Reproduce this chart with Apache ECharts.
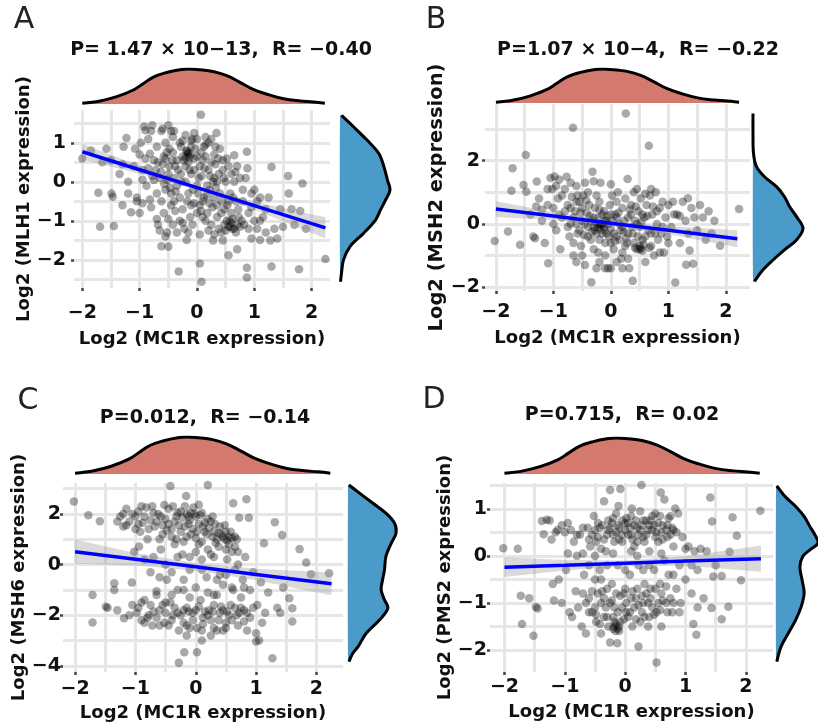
<!DOCTYPE html>
<html><head><meta charset="utf-8">
<script src="https://cdn.jsdelivr.net/npm/echarts@6/dist/echarts.min.js"></script>
<style>html,body{margin:0;padding:0;background:#fff}#c{width:818px;height:726px}</style>
</head><body><div id="c"></div>
<script>
// ---------- DATA ----------
const xAxisName = 'Log2 (MC1R expression)';
const xTickVals = [-2, -1, 0, 1, 2];
const xGridVals = [-2, -1.5, -1, -0.5, 0, 0.5, 1, 1.5, 2];

// shared marginal density of MC1R (relative height)
const mc1rDensX = [-2.0, -1.69, -1.4, -1.11, -0.94, -0.76, -0.53, -0.3, -0.15, 0.05, 0.28, 0.52, 0.75, 0.98, 1.22, 1.51, 1.8, 2.03, 2.23];
const mc1rDensY = [0.02, 0.087, 0.21, 0.4, 0.58, 0.77, 0.9, 0.98, 1.0, 0.98, 0.93, 0.81, 0.62, 0.42, 0.28, 0.15, 0.087, 0.058, 0.02];

// Panel A: MLH1
const mlh1Points = [[-2.0,0.6],[-1.85,0.8],[-1.72,-0.28],[-1.69,-1.15],[-1.58,0.85],[-1.49,-0.3],[-1.47,-0.38],[-1.45,-1.13],[-1.35,0.2],[-1.28,0.9],[-1.23,1.12],[-1.2,0.0],[-1.15,-0.78],[-1.08,0.85],[-1.05,-0.4],[-1.05,-0.5],[-1.0,-0.8],[-0.98,1.0],[-0.95,0.05],[-0.92,1.42],[-0.9,1.32],[-0.85,1.1],[-0.82,0.72],[-0.8,-0.65],[-0.78,1.45],[-0.75,0.55],[-0.72,0.3],[-0.7,-0.3],[-0.68,-1.1],[-0.65,-1.25],[-0.62,1.3],[-0.62,-1.65],[-0.6,1.36],[-0.58,0.65],[-0.55,-0.2],[-0.52,0.05],[-0.5,-1.66],[-0.5,-0.95],[-0.48,0.4],[-0.45,1.3],[-0.42,1.15],[-0.42,0.75],[-0.4,-0.5],[-0.38,-0.75],[-0.35,0.55],[-0.32,-2.3],[-0.3,1.0],[-0.3,-1.0],[-0.28,0.2],[-0.25,0.65],[-0.22,-1.2],[-0.2,1.2],[-0.18,-1.49],[-0.18,0.8],[-0.15,0.75],[-0.15,0.5],[-0.12,0.7],[-0.1,-0.6],[-0.1,0.2],[-0.08,1.1],[-0.05,-0.55],[-0.05,0.6],[0.0,1.1],[0.02,-0.3],[0.05,-2.09],[0.05,0.4],[0.07,1.72],[0.08,-2.56],[0.1,-0.9],[0.12,0.9],[0.15,-1.0],[0.18,-0.1],[0.2,0.3],[0.22,-0.55],[0.25,0.5],[0.28,-1.5],[0.3,0.1],[0.32,0.9],[0.34,1.25],[0.35,-0.6],[0.38,-1.2],[0.4,0.85],[0.42,-0.8],[0.45,0.3],[0.48,-1.1],[0.5,-1.25],[0.52,0.6],[0.55,-1.88],[0.55,-0.5],[0.58,-1.15],[0.6,0.2],[0.62,-0.95],[0.65,0.68],[0.68,-1.3],[0.7,-1.73],[0.72,-0.7],[0.75,0.1],[0.78,-1.0],[0.8,-0.5],[0.82,-1.1],[0.87,0.77],[0.87,-2.2],[0.87,-2.45],[0.88,0.35],[0.9,-0.8],[0.95,-0.3],[1.0,-1.0],[1.05,-0.5],[1.1,-1.49],[1.15,-0.9],[1.2,-0.7],[1.28,-1.5],[1.3,0.38],[1.3,-2.17],[1.35,-1.2],[1.4,-1.45],[1.45,-0.7],[1.5,-1.15],[1.59,0.15],[1.6,-0.3],[1.65,-0.7],[1.7,-1.1],[1.78,-2.24],[1.8,-0.75],[1.84,-0.04],[1.9,-1.2],[2.24,-1.98],
[-0.6,0.45],[-0.55,0.6],[-0.5,0.2],[-0.45,-0.3],[-0.4,0.1],[-0.38,0.4],[-0.35,-0.1],[-0.3,-0.4],[-0.28,0.9],[-0.25,-0.7],[-0.2,0.0],[-0.2,0.4],[-0.15,-0.3],[-0.12,-0.9],[-0.1,0.9],[-0.08,-1.1],[-0.05,0.3],[0.0,-0.1],[0.0,0.65],[0.05,-0.6],[0.08,0.15],[0.1,0.55],[0.12,-0.4],[0.15,0.65],[0.18,-0.8],[0.2,1.0],[0.22,-0.2],[0.25,-1.1],[0.28,0.0],[0.3,-0.4],[0.32,0.45],[0.35,-0.9],[0.38,0.2],[0.4,-0.3],[0.42,-1.3],[0.45,0.55],[0.48,-0.7],[0.5,0.0],[0.52,-1.0],[0.55,0.4],[0.58,-0.3],[0.6,-0.8],[0.62,-1.2],[0.65,0.0],[0.68,-0.5],[0.7,0.4],[-0.7,0.9],[-0.65,0.1],[-0.62,-0.5],[-0.58,-0.8],[-0.55,1.0],[-0.52,-1.3],[-0.48,0.85],[-0.45,-0.6],[-0.42,-1.1],[-0.9,0.6],[-0.88,-0.1],[-0.85,0.35],[-0.82,-0.45],[-0.78,0.15],[-1.1,0.4],[-1.3,0.45],[-1.5,0.55],[-1.65,0.5],[0.15,0.95],[-0.05,1.25],[0.08,0.75],[0.3,0.7],[-0.25,1.05],[0.9,-1.2],[1.0,-0.2],[0.95,-0.65],[0.75,-1.15],[1.1,-1.0],[1.25,-0.4],[0.85,0.1],[-0.95,-0.55],[-0.35,-1.3],[-0.15,-1.3],[0.05,-1.35],[0.2,-1.25],[-0.7,-0.95],
[-0.75,0.05],[-0.68,0.5],[-0.63,0.25],[-0.57,-0.05],[-0.53,0.75],[-0.47,-0.15],[-0.43,0.55],[-0.37,-0.25],[-0.33,0.3],[-0.27,0.0],[-0.23,0.55],[-0.17,-0.5],[-0.13,0.3],[-0.07,-0.2],[-0.03,0.85],[0.03,0.1],[0.07,-0.75],[0.13,0.35],[0.17,-0.35],[0.23,0.15],[0.27,-0.65],[0.33,-0.15],[0.37,0.6],[0.43,-0.5],[0.47,0.1],[0.53,-0.6],[0.57,-1.0],[0.63,-0.4],[0.67,0.25],[0.73,-0.9],[-0.18,0.78],[-0.16,0.72],[-0.13,0.62],[-0.2,0.62],[0.6,-1.05],[0.55,-1.15],[0.65,-1.2],[0.7,-1.1],[-0.8,1.3],[-0.5,1.45],[-0.4,1.3],[-0.1,1.05],[0.15,1.15],[0.25,1.1],[-1.2,-0.3],[-1.3,-0.6],[-0.95,0.3],[-1.0,0.7],[1.2,-1.3],[1.05,-1.2],[0.95,-1.45],[0.45,-1.5],[0.3,-1.35],[-0.55,-1.4],[-0.25,-1.05],[0.0,-0.8],[0.1,-0.5],[0.35,0.0],[0.8,-0.2],[1.1,-0.4]];
const mlh1DensY = [1.70, 1.41, 1.07, 0.72, 0.38, 0.04, -0.21, -0.47, -0.72, -0.98, -1.32, -1.66, -2.0, -2.34, -2.56];
const mlh1DensD = [0.03, 0.27, 0.54, 0.78, 0.88, 0.95, 1.0, 0.91, 0.81, 0.71, 0.47, 0.2, 0.07, 0.03, 0.01];
const mlh1FitX = [-2.0, -1.0, 0.0, 1.0, 2.24];
const mlh1FitY = [0.77, 0.31, -0.15, -0.61, -1.18];
const mlh1CiLo = [0.57, 0.21, -0.2, -0.71, -1.45];
const mlh1CiHi = [0.97, 0.41, -0.1, -0.51, -0.91];
const mlh1YTicks = [-2, -1, 0, 1];
const mlh1YGrid = [-2.5, -2, -1.5, -1, -0.5, 0, 0.5, 1, 1.5];

// Panel B: MSH2
const msh2Points = [[-2.02,-0.54],[-1.79,-0.24],[-1.73,1.05],[-1.71,1.76],[-1.58,-0.66],[-1.52,1.23],[-1.48,2.18],[-1.47,1.02],[-1.4,0.3],[-1.35,-0.4],[-1.32,-0.45],[-1.29,1.34],[-1.25,0.8],[-1.2,0.1],[-1.15,-0.6],[-1.09,-1.24],[-1.05,1.45],[-1.02,1.1],[-1.0,0.5],[-0.98,1.5],[-0.95,-0.2],[-0.92,0.8],[-0.9,1.4],[-0.88,-0.8],[-0.85,0.2],[-0.8,1.1],[-0.77,1.49],[-0.75,0.6],[-0.72,-0.4],[-0.7,0.0],[-0.68,0.85],[-0.66,3.04],[-0.65,-1.0],[-0.62,0.4],[-0.6,1.2],[-0.58,-0.3],[-0.55,0.7],[-0.52,-0.7],[-0.5,0.1],[-0.48,0.9],[-0.45,-1.3],[-0.42,0.35],[-0.4,-0.1],[-0.38,0.6],[-0.35,-0.5],[-0.34,-1.84],[-0.32,1.65],[-0.3,0.2],[-0.28,-0.2],[-0.25,0.9],[-0.22,-0.9],[-0.2,0.0],[-0.18,1.3],[-0.15,-0.3],[-0.12,0.4],[-0.1,-0.6],[-0.08,0.1],[-0.05,-1.4],[-0.02,0.6],[0.0,-0.15],[0.02,0.9],[0.05,-0.8],[0.08,0.3],[0.1,-0.4],[0.12,1.0],[0.15,0.0],[0.18,-1.1],[0.2,0.5],[0.22,-0.25],[0.25,0.8],[0.26,3.49],[0.28,-0.6],[0.29,1.42],[0.3,0.2],[0.32,-1.4],[0.35,0.6],[0.38,-1.8],[0.38,-0.3],[0.4,1.0],[0.42,0.1],[0.45,-0.8],[0.48,0.4],[0.5,-0.1],[0.52,0.8],[0.55,-0.5],[0.58,0.2],[0.6,-1.2],[0.62,0.6],[0.65,-0.2],[0.66,2.47],[0.68,0.9],[0.7,-0.7],[0.72,0.3],[0.75,-1.0],[0.78,1.0],[0.8,0.0],[0.82,-0.5],[0.85,0.5],[0.88,-0.3],[0.9,0.7],[0.92,-0.9],[0.95,0.2],[0.98,-0.4],[1.0,0.6],[1.05,-0.1],[1.08,0.7],[1.12,-1.85],[1.15,0.3],[1.2,-0.6],[1.25,0.7],[1.3,0.1],[1.31,-1.29],[1.34,0.81],[1.37,-0.84],[1.4,0.5],[1.43,-1.26],[1.5,-0.2],[1.55,0.6],[1.6,0.2],[1.65,-0.5],[1.7,0.4],[1.75,-0.3],[1.8,0.1],[1.9,-0.69],[2.23,0.47],
[-0.6,0.0],[-0.55,-0.2],[-0.5,0.5],[-0.45,0.0],[-0.4,-0.4],[-0.35,0.1],[-0.3,-0.1],[-0.28,0.5],[-0.25,-0.3],[-0.22,0.2],[-0.2,-0.5],[-0.18,0.0],[-0.15,0.3],[-0.12,-0.1],[-0.1,0.1],[-0.08,-0.3],[-0.05,0.0],[0.0,0.3],[0.05,-0.3],[0.1,0.2],[0.15,-0.5],[0.2,-0.1],[0.25,-0.7],[0.3,-0.3],[0.35,0.3],[0.4,-0.6],[0.45,0.0],[0.5,-0.8],[0.55,0.3],[0.6,-0.4],[-0.75,-0.1],[-0.8,0.4],[-0.85,0.9],[-1.0,0.0],[-1.1,0.6],[-0.7,1.3],[-0.4,1.0],[-0.2,0.7],[0.1,0.7],[-0.3,-0.8],[-0.1,-1.0],[0.0,-0.6],[0.2,-0.9],[-0.5,-1.0],[-0.65,-0.6],[0.7,-0.3],[0.8,0.4],[0.9,-0.1],[1.0,-0.6],[1.1,0.3],[-0.1,-1.4],[0.0,-1.4],[0.2,-1.4],
[-0.7,0.5],[-0.65,0.2],[-0.58,0.9],[-0.53,0.35],[-0.47,-0.35],[-0.43,0.75],[-0.37,0.25],[-0.33,-0.25],[-0.27,0.05],[-0.23,-0.1],[-0.2,-0.15],[-0.17,-0.05],[-0.14,0.0],[-0.11,-0.2],[-0.07,0.25],[-0.03,-0.4],[0.03,0.1],[0.07,-0.55],[0.13,0.35],[0.17,-0.2],[0.23,0.1],[0.27,-0.45],[0.33,0.45],[0.37,-0.1],[0.43,0.55],[0.47,-0.4],[0.53,0.05],[0.57,-0.65],[0.63,0.25],[0.67,-0.75],[0.73,0.55],[0.77,-0.3],[0.85,-0.9],[0.42,-0.75],[0.5,-0.7],[0.52,-0.78],[0.55,-0.85],[-0.25,-1.4],[-0.2,-1.2],[0.1,-1.2],[0.3,-1.1],[-0.6,-1.2],[-0.9,0.3],[-1.1,1.1],[-1.2,0.45],[-1.3,0.55],[-0.95,1.2],[0.45,1.1],[0.6,0.95],[1.2,0.25],[1.35,-0.3],[1.45,0.2],[-0.45,1.3],[-0.3,1.35],[0.0,1.25],[0.7,1.1],[-0.2,0.45],[-0.6,0.7]];
const msh2DensY = [3.49, 2.86, 2.23, 1.81, 1.49, 1.18, 0.86, 0.55, 0.23, -0.14, -0.51, -0.82, -1.14, -1.45, -1.82];
const msh2DensD = [0.0, 0.0, 0.01, 0.07, 0.23, 0.47, 0.63, 0.73, 0.87, 1.0, 0.87, 0.63, 0.4, 0.2, 0.03];
const msh2FitX = [-2.0, -1.0, 0.0, 1.0, 2.2];
const msh2FitY = [0.47, 0.25, 0.02, -0.2, -0.47];
const msh2CiLo = [0.22, 0.12, -0.06, -0.33, -0.74];
const msh2CiHi = [0.72, 0.38, 0.1, -0.07, -0.2];
const msh2YTicks = [-2, 0, 2];
const msh2YGrid = [-2, -1, 0, 1, 2, 3];

// Panel C: MSH6
const msh6Points = [[-2.02,2.49],[-1.78,1.95],[-1.71,-1.2],[-1.71,-2.29],[-1.59,1.71],[-1.49,-1.66],[-1.46,-1.7],[-1.35,-0.74],[-1.35,-1.0],[-1.25,1.9],[-1.2,1.5],[-1.19,-2.12],[-1.15,2.2],[-1.1,1.7],[-1.06,-0.71],[-1.05,-1.6],[-1.02,0.51],[-1.0,1.9],[-0.98,-1.9],[-0.95,2.1],[-0.94,0.71],[-0.92,1.3],[-0.9,-2.2],[-0.88,1.65],[-0.85,-1.4],[-0.82,2.25],[-0.8,1.0],[-0.78,-2.0],[-0.75,1.75],[-0.72,-2.4],[-0.7,0.3],[-0.68,1.5],[-0.65,-1.2],[-0.62,2.0],[-0.6,-1.8],[-0.58,0.6],[-0.55,1.2],[-0.52,-2.3],[-0.5,1.8],[-0.48,-0.6],[-0.45,2.2],[-0.42,3.1],[-0.42,-1.5],[-0.4,1.4],[-0.38,-2.0],[-0.35,0.8],[-0.32,1.9],[-0.3,-1.0],[-0.28,-3.87],[-0.28,-2.6],[-0.25,2.1],[-0.22,0.4],[-0.2,-1.8],[-0.19,-3.46],[-0.18,1.5],[-0.16,2.71],[-0.15,-2.4],[-0.12,1.9],[-0.1,-0.2],[-0.08,1.2],[-0.05,-1.9],[-0.02,2.0],[0.0,0.5],[0.02,-3.46],[0.02,-2.5],[0.05,2.36],[0.05,1.6],[0.08,-1.4],[0.1,0.9],[0.12,-2.1],[0.15,1.3],[0.18,-0.5],[0.2,3.14],[0.2,1.8],[0.22,-1.8],[0.25,0.4],[0.28,1.1],[0.3,-2.5],[0.32,1.6],[0.35,-1.2],[0.38,0.7],[0.4,-1.9],[0.42,1.2],[0.45,-0.8],[0.48,1.0],[0.5,-2.3],[0.52,0.2],[0.55,1.1],[0.58,-1.6],[0.6,0.5],[0.62,2.42],[0.62,-1.0],[0.65,1.1],[0.68,-2.0],[0.7,0.0],[0.72,1.85],[0.75,-1.3],[0.78,-0.6],[0.8,-1.8],[0.82,0.3],[0.84,2.58],[0.85,-2.6],[0.88,1.85],[0.9,-1.0],[0.95,-0.3],[1.0,-2.71],[1.0,-3.04],[1.02,-1.6],[1.05,-3.0],[1.08,-0.7],[1.13,0.84],[1.15,-1.9],[1.2,-1.1],[1.27,-3.7],[1.31,1.67],[1.35,-1.7],[1.4,-1.9],[1.43,1.17],[1.45,-0.9],[1.55,-1.33],[1.6,-1.72],[1.6,-2.25],[1.72,0.61],[1.83,0.08],[1.91,-0.38],[2.21,-0.34],
[-1.3,1.7],[-1.15,1.55],[-1.05,2.0],[-0.95,1.6],[-0.85,1.9],[-0.7,2.05],[-0.65,1.7],[-0.55,1.55],[-0.45,1.6],[-0.35,1.7],[-0.3,2.05],[-0.22,1.85],[-0.15,2.0],[-0.12,1.6],[-0.08,2.05],[-0.05,1.4],[0.0,1.9],[0.08,1.95],[0.12,1.5],[0.18,1.2],[0.25,1.7],[0.3,1.3],[0.35,1.0],[0.4,1.5],[0.45,1.1],[0.5,1.3],[0.55,0.8],[0.6,1.05],[-0.25,1.3],[-0.4,1.1],[-0.6,1.0],[-0.2,0.9],[0.05,0.8],[0.2,0.6],
[-0.75,-0.3],[-0.5,0.0],[-0.3,0.3],[-0.1,0.3],[0.1,-0.2],[0.3,0.3],[0.5,-0.4],[0.65,-0.2],[0.8,-0.9],[-0.6,-0.5],[-0.4,-0.3],[-0.2,-0.6],[0.0,-0.9],[0.2,-1.1],[0.4,-0.4],[0.6,-0.9],[0.7,0.5],
[-0.95,-1.7],[-0.85,-2.3],[-0.75,-1.6],[-0.65,-2.1],[-0.55,-1.6],[-0.5,-1.9],[-0.45,-2.4],[-0.35,-1.7],[-0.25,-2.0],[-0.15,-1.7],[-0.1,-2.5],[0.0,-1.8],[0.1,-2.6],[0.15,-1.85],[0.25,-2.2],[0.3,-1.6],[0.35,-2.6],[0.45,-1.8],[0.5,-2.5],[0.55,-2.0],[0.65,-1.7],[0.7,-2.4],[0.75,-1.7],[0.85,-1.9],[0.9,-2.1],[-0.1,-1.3],[-0.4,-1.2],[0.3,-1.2],
[-1.2,2.0],[-1.0,1.4],[-0.9,2.3],[-0.78,1.4],[-0.72,2.3],[-0.58,1.9],[-0.52,2.35],[-0.48,1.35],[-0.38,2.3],[-0.28,1.55],[-0.18,2.3],[-0.1,1.75],[-0.04,2.25],[0.02,1.3],[0.1,2.05],[0.15,1.65],[0.22,1.45],[0.28,1.9],[0.33,0.85],[0.38,1.25],[0.48,1.55],[0.52,0.95],[0.58,1.3],[0.65,0.7],[0.68,1.0],[-0.32,1.0],[-0.15,1.1],[0.0,1.05],
[-0.9,-1.5],[-0.8,-2.1],[-0.7,-1.85],[-0.6,-2.4],[-0.5,-1.5],[-0.4,-2.2],[-0.3,-1.9],[-0.2,-2.3],[-0.12,-1.85],[-0.05,-2.2],[0.05,-1.65],[0.12,-2.35],[0.2,-2.0],[0.28,-1.85],[0.38,-2.2],[0.42,-1.65],[0.52,-1.85],[0.6,-2.2],[0.72,-1.9],[0.8,-2.25],[0.95,-1.7],[1.1,-2.3],[0.25,-2.8],[0.45,-2.6],[-0.15,-2.8],[0.1,-3.0],[-0.65,-1.05],[-0.2,-1.0],[0.35,-0.6],[-0.85,0.2],[0.1,0.2],[0.5,0.6],[-1.3,-1.8],[-1.1,-2.0]];
const msh6DensY = [3.14, 2.82, 2.42, 2.03, 1.63, 1.24, 0.84, 0.32, -0.21, -0.61, -1.0, -1.39, -1.72, -2.18, -2.71, -3.24, -3.5, -3.83];
const msh6DensD = [0.02, 0.24, 0.52, 0.79, 0.97, 1.0, 0.9, 0.79, 0.76, 0.72, 0.69, 0.76, 0.83, 0.66, 0.38, 0.21, 0.1, 0.02];
const msh6FitX = [-2.0, -1.0, 0.0, 1.0, 2.25];
const msh6FitY = [0.51, 0.21, -0.09, -0.39, -0.76];
const msh6CiLo = [0.03, -0.04, -0.24, -0.62, -1.21];
const msh6CiHi = [0.99, 0.46, 0.06, -0.16, -0.31];
const msh6YTicks = [-4, -2, 0, 2];
const msh6YGrid = [-4, -3, -2, -1, 0, 1, 2, 3];

// Panel D: PMS2
const pms2Points = [[-2.02,0.16],[-1.78,0.15],[-1.73,-0.85],[-1.71,-1.45],[-1.59,-0.9],[-1.52,-1.7],[-1.48,-1.09],[-1.45,-1.12],[-1.38,0.74],[-1.35,0.46],[-1.3,0.77],[-1.22,0.35],[-1.18,-0.95],[-1.12,0.55],[-1.1,-0.5],[-1.05,-1.0],[-1.0,0.5],[-0.98,-0.3],[-0.95,0.05],[-0.92,-1.2],[-0.9,0.55],[-0.88,-1.3],[-0.85,0.3],[-0.82,-0.75],[-0.8,0.0],[-0.78,-1.1],[-0.75,0.45],[-0.72,-1.5],[-0.7,0.05],[-0.68,-0.4],[-0.65,-1.65],[-0.62,0.6],[-0.6,-0.9],[-0.58,0.2],[-0.55,-1.2],[-0.52,0.85],[-0.5,-0.5],[-0.48,-1.4],[-0.45,0.4],[-0.42,-0.3],[-0.4,-1.65],[-0.38,0.65],[-0.35,1.16],[-0.35,-0.9],[-0.32,0.1],[-0.3,-1.3],[-0.28,0.75],[-0.25,1.4],[-0.25,-1.84],[-0.22,-0.6],[-0.2,0.45],[-0.18,-1.1],[-0.15,0.9],[-0.13,-1.86],[-0.12,-0.2],[-0.11,1.06],[-0.1,0.6],[-0.08,1.42],[-0.08,-1.4],[-0.05,0.3],[-0.02,-0.8],[0.0,0.7],[0.02,-1.2],[0.05,0.45],[0.08,-0.4],[0.1,0.85],[0.11,1.01],[0.12,-1.5],[0.15,0.2],[0.18,-0.9],[0.2,0.6],[0.22,-1.93],[0.22,-0.2],[0.25,0.95],[0.27,1.51],[0.28,-1.2],[0.3,0.4],[0.32,-0.6],[0.35,0.75],[0.38,-1.5],[0.4,0.1],[0.42,-0.9],[0.45,0.55],[0.48,-0.3],[0.5,0.9],[0.52,-2.27],[0.52,-1.2],[0.55,0.3],[0.58,-0.6],[0.59,1.35],[0.6,-1.5],[0.62,0.65],[0.65,1.2],[0.65,-0.1],[0.68,-1.0],[0.7,0.4],[0.72,-0.4],[0.75,0.85],[0.78,-1.2],[0.8,0.2],[0.83,1.01],[0.85,-0.7],[0.88,0.9],[0.9,-0.2],[0.92,-1.0],[0.95,0.4],[1.0,-0.5],[1.05,0.2],[1.1,-0.8],[1.13,-1.45],[1.15,0.1],[1.18,-1.68],[1.2,-0.3],[1.25,0.15],[1.3,-0.9],[1.35,0.1],[1.41,1.24],[1.43,-1.11],[1.44,0.73],[1.46,-0.44],[1.5,-0.2],[1.6,-0.43],[1.6,-1.35],[1.71,-1.08],[1.73,0.09],[1.78,0.82],[1.85,0.43],[1.92,-0.52],[2.24,0.96],
[-0.6,0.35],[-0.5,0.55],[-0.45,0.7],[-0.4,0.15],[-0.3,0.45],[-0.25,0.6],[-0.2,0.8],[-0.15,0.5],[-0.1,0.35],[-0.05,0.75],[0.0,0.55],[0.05,0.7],[0.1,0.45],[0.15,0.65],[0.2,0.3],[0.25,0.55],[0.3,0.75],[0.35,0.45],[0.4,0.65],[0.45,0.85],[0.5,0.4],[0.55,0.7],[0.6,0.5],[0.7,0.65],[0.75,0.45],[0.8,0.55],[0.85,0.5],[-0.7,0.6],[-0.8,0.45],[-1.15,0.5],[-1.25,0.75],
[-0.7,-0.8],[-0.6,-1.2],[-0.5,-1.1],[-0.45,-0.8],[-0.4,-1.0],[-0.35,-1.3],[-0.3,-0.7],[-0.25,-1.0],[-0.2,-1.3],[-0.15,-0.8],[-0.1,-1.5],[-0.05,-1.1],[0.0,-0.7],[0.05,-1.3],[0.1,-0.9],[0.15,-1.1],[0.2,-0.7],[0.25,-1.4],[0.3,-1.0],[0.35,-0.8],[0.4,-1.3],[0.45,-1.1],[0.5,-0.7],[0.55,-1.0],[0.6,-0.8],[0.7,-1.2],[0.75,-0.9],[-0.15,-1.45],[-0.2,-1.55],[-0.1,-1.6],
[-0.6,-0.2],[-0.4,-0.5],[-0.2,0.05],[0.0,-0.3],[0.2,0.0],[0.4,-0.2],[0.6,0.05],[0.8,-0.4],
[-0.55,0.45],[-0.48,0.3],[-0.42,0.6],[-0.35,0.35],[-0.28,0.55],[-0.22,0.7],[-0.18,0.3],[-0.12,0.65],[-0.06,0.45],[0.02,0.8],[0.08,0.6],[0.12,0.35],[0.18,0.75],[0.22,0.45],[0.28,0.65],[0.32,0.3],[0.38,0.55],[0.42,0.75],[0.48,0.65],[0.52,0.5],[0.58,0.85],[0.62,0.35],[0.68,0.55],[0.72,0.8],[0.78,0.6],[-0.95,0.7],[-1.05,0.65],
[-0.65,-1.0],[-0.55,-0.75],[-0.48,-1.25],[-0.42,-1.45],[-0.38,-0.75],[-0.32,-1.1],[-0.28,-1.5],[-0.22,-0.95],[-0.18,-1.4],[-0.12,-1.2],[-0.08,-0.85],[-0.02,-1.35],[0.02,-1.0],[0.08,-1.2],[0.12,-0.75],[0.18,-1.35],[0.22,-1.05],[0.28,-0.85],[0.32,-1.3],[0.38,-1.0],[0.42,-0.7],[0.48,-1.25],[0.58,-1.15],[0.62,-0.95],[0.68,-0.65],[0.8,-1.0],[0.9,-1.2],[-0.18,-1.5],[-0.12,-1.55],[-0.16,-1.6],
[-0.5,0.0],[0.3,-0.3],[0.1,0.1],[-0.3,-0.2],[1.0,0.15],[1.1,-0.2],[1.2,-1.1],[-1.2,-0.6]];
const pms2DensY = [1.49, 1.26, 1.05, 0.84, 0.62, 0.41, 0.27, 0.13, -0.01, -0.23, -0.51, -0.79, -1.08, -1.36, -1.65, -1.93, -2.25];
const pms2DensD = [0.02, 0.22, 0.47, 0.67, 0.81, 0.95, 1.0, 0.81, 0.64, 0.57, 0.62, 0.67, 0.6, 0.47, 0.29, 0.12, 0.02];
const pms2FitX = [-2.0, -1.0, 0.0, 1.0, 2.25];
const pms2FitY = [-0.24, -0.2, -0.155, -0.11, -0.06];
const pms2CiLo = [-0.45, -0.31, -0.22, -0.21, -0.34];
const pms2CiHi = [-0.03, -0.09, -0.1, -0.01, 0.22];
const pms2YTicks = [-2, -1, 0, 1];
const pms2YGrid = [-2, -1.5, -1, -0.5, 0, 0.5, 1, 1.5];

// ---------- LAYOUT / STYLE ----------
const FONT = '"DejaVu Sans", sans-serif';
const panels = [
  { letter: 'A', title: 'P= 1.47 \u00d7 10\u221213,  R= \u22120.40', yName: 'Log2 (MLH1 expression)',
    pts: mlh1Points, densY: mlh1DensY, densD: mlh1DensD, fitX: mlh1FitX, fitY: mlh1FitY, lo: mlh1CiLo, hi: mlh1CiHi, yTicks: mlh1YTicks, yGrid: mlh1YGrid,
    s: { left: 74, top: 110, width: 256, height: 178 }, xr: [-2.145, 2.32], yr: [-2.72, 1.84],
    t: { top: 69, height: 35 }, r: { left: 340, width: 50 },
    titlePos: [221, 50], letterPos: [24, 20], xLabMargin: 16, yLabMargin: 8, xNameGap: 42, yNameGap: 34, yNameSize: 18 },
  { letter: 'B', title: 'P=1.07 \u00d7 10\u22124,  R= \u22120.22', yName: 'Log2 (MSH2 expression)',
    pts: msh2Points, densY: msh2DensY, densD: msh2DensD, fitX: msh2FitX, fitY: msh2FitY, lo: msh2CiLo, hi: msh2CiHi, yTicks: msh2YTicks, yGrid: msh2YGrid,
    s: { left: 485, top: 104, width: 265, height: 187 }, xr: [-2.19, 2.42], yr: [-2.12, 3.79],
    t: { top: 69, height: 34 }, r: { left: 753, width: 50 },
    titlePos: [638, 50], letterPos: [436, 20], xLabMargin: 12, yLabMargin: 5, xNameGap: 38, yNameGap: 27, yNameSize: 19.5 },
  { letter: 'C', title: 'P=0.012,  R= \u22120.14', yName: 'Log2 (MSH6 expression)',
    pts: msh6Points, densY: msh6DensY, densD: msh6DensD, fitX: msh6FitX, fitY: msh6FitY, lo: msh6CiLo, hi: msh6CiHi, yTicks: msh6YTicks, yGrid: msh6YGrid,
    s: { left: 63, top: 483, width: 280, height: 189 }, xr: [-2.2, 2.44], yr: [-4.24, 3.22],
    t: { top: 437, height: 37 }, r: { left: 348, width: 48 },
    titlePos: [205, 418], letterPos: [28, 401], xLabMargin: 8, yLabMargin: 2, xNameGap: 32, yNameGap: 20, yNameSize: 18 },
  { letter: 'D', title: 'P=0.715,  R= 0.02', yName: 'Log2 (PMS2 expression)',
    pts: pms2Points, densY: pms2DensY, densD: pms2DensD, fitX: pms2FitX, fitY: pms2FitY, lo: pms2CiLo, hi: pms2CiHi, yTicks: pms2YTicks, yGrid: pms2YGrid,
    s: { left: 490, top: 483, width: 283, height: 189 }, xr: [-2.24, 2.45], yr: [-2.47, 1.55],
    t: { top: 438, height: 36 }, r: { left: 776, width: 48 },
    titlePos: [622, 415], letterPos: [434, 400], xLabMargin: 6, yLabMargin: 3, xNameGap: 31, yNameGap: 30, yNameSize: 18 }
];

const fmt = v => (v < 0 ? '\u2212' + Math.abs(v) : String(v));
const GRID_COLOR = '#e6e6e6';

const grid = [], xAxis = [], yAxis = [], series = [], graphic = [];
const hidden = { show: false };

panels.forEach((p) => {
  const g0 = grid.length;
  grid.push({ left: p.s.left, top: p.s.top, width: p.s.width, height: p.s.height });
  grid.push({ left: p.s.left, top: p.t.top, width: p.s.width, height: p.t.height });
  grid.push({ left: p.r.left, top: p.s.top, width: p.r.width, height: p.s.height });
  const a0 = xAxis.length;
  xAxis.push({ gridIndex: g0, type: 'value', min: p.xr[0], max: p.xr[1],
    axisLine: { show: false, onZero: false }, axisTick: { show: false, customValues: xGridVals },
    axisLabel: { show: false }, splitLine: { show: true, lineStyle: { color: GRID_COLOR, width: 3 } } });
  xAxis.push({ gridIndex: g0, type: 'value', position: 'bottom', min: p.xr[0], max: p.xr[1],
    axisLine: { show: false, onZero: false },
    axisTick: { show: true, customValues: xTickVals, length: 3, lineStyle: { color: '#444', width: 2.5 } },
    axisLabel: { customValues: xTickVals, formatter: fmt, margin: p.xLabMargin, fontSize: 19, fontWeight: 'bold', color: '#111', fontFamily: FONT },
    splitLine: hidden,
    name: xAxisName, nameLocation: 'middle', nameGap: p.xNameGap,
    nameTextStyle: { fontSize: 18, fontWeight: 'bold', color: '#111', fontFamily: FONT } });
  xAxis.push({ gridIndex: g0 + 1, type: 'value', min: p.xr[0], max: p.xr[1], show: false });
  xAxis.push({ gridIndex: g0 + 2, type: 'value', min: 0, max: 1, show: false });

  yAxis.push({ gridIndex: g0, type: 'value', min: p.yr[0], max: p.yr[1],
    axisLine: { show: false, onZero: false }, axisTick: { show: false, customValues: p.yGrid },
    axisLabel: { show: false }, splitLine: { show: true, lineStyle: { color: GRID_COLOR, width: 3 } } });
  yAxis.push({ gridIndex: g0, type: 'value', position: 'left', min: p.yr[0], max: p.yr[1],
    axisLine: { show: false, onZero: false },
    axisTick: { show: true, customValues: p.yTicks, length: 3, lineStyle: { color: '#444', width: 2.5 } },
    axisLabel: { customValues: p.yTicks, formatter: fmt, margin: p.yLabMargin, fontSize: 19, fontWeight: 'bold', color: '#111', fontFamily: FONT },
    splitLine: hidden,
    name: p.yName, nameLocation: 'middle', nameGap: p.yNameGap,
    nameTextStyle: { fontSize: p.yNameSize, fontWeight: 'bold', color: '#111', fontFamily: FONT } });
  yAxis.push({ gridIndex: g0 + 1, type: 'value', min: 0, max: 1, show: false });
  yAxis.push({ gridIndex: g0 + 2, type: 'value', min: p.yr[0], max: p.yr[1], show: false });

  series.push({ type: 'scatter', xAxisIndex: a0, yAxisIndex: a0, data: p.pts, symbolSize: 8.5,
    itemStyle: { color: 'rgba(0,0,0,0.42)' }, z: 3, silent: true });
  const band = p.fitX.map((x, k) => [x, p.lo[k], p.hi[k]]);
  series.push({ type: 'custom', xAxisIndex: a0, yAxisIndex: a0, data: band, z: 4, silent: true,
    renderItem: (params, api) => {
      if (params.dataIndex !== 0) return null;
      const up = band.map(d => api.coord([d[0], d[2]]));
      const dn = band.map(d => api.coord([d[0], d[1]])).reverse();
      return { type: 'polygon', shape: { points: up.concat(dn) }, style: { fill: 'rgba(150,150,150,0.35)' } };
    } });
  series.push({ type: 'line', xAxisIndex: a0, yAxisIndex: a0, data: p.fitX.map((x, k) => [x, p.fitY[k]]),
    showSymbol: false, symbol: 'none', lineStyle: { color: '#0000ff', width: 3.5 }, z: 5, silent: true });
  series.push({ type: 'line', xAxisIndex: a0 + 2, yAxisIndex: a0 + 2, data: mc1rDensX.map((x, k) => [x, mc1rDensY[k]]),
    smooth: 0.4, symbol: 'none', lineStyle: { color: '#000', width: 3 },
    areaStyle: { color: '#d4796d', opacity: 1 }, z: 2, silent: true });
  const dens = p.densY.map((y, k) => [p.densD[k], y]);
  series.push({ type: 'custom', xAxisIndex: a0 + 3, yAxisIndex: a0 + 3, data: dens, z: 2, silent: true,
    renderItem: (params, api) => {
      if (params.dataIndex !== 0) return null;
      const curve = dens.map(d => api.coord(d));
      const top = api.coord([0, dens[0][1]]);
      const bot = api.coord([0, dens[dens.length - 1][1]]);
      return { type: 'group', children: [
        { type: 'polygon', shape: { points: [top].concat(curve, [bot]), smooth: 0.35 }, style: { fill: '#4b9bca' } },
        { type: 'polyline', shape: { points: curve, smooth: 0.35 }, style: { fill: null, stroke: '#000', lineWidth: 3 } }
      ] };
    } });

  graphic.push({ type: 'text', x: p.titlePos[0], y: p.titlePos[1],
    style: { text: p.title, font: 'bold 19px ' + FONT, fill: '#111', textAlign: 'center', textVerticalAlign: 'middle', align: 'center', verticalAlign: 'middle' } });
  graphic.push({ type: 'text', x: p.letterPos[0], y: p.letterPos[1],
    style: { text: p.letter, font: '30px ' + FONT, fill: '#222', textAlign: 'center', textVerticalAlign: 'middle', align: 'center', verticalAlign: 'middle' } });
});

const chart = echarts.init(document.getElementById('c'), null, { renderer: 'canvas' });
chart.setOption({ animation: false, backgroundColor: '#fff', grid, xAxis, yAxis, series, graphic });
</script></body></html>
